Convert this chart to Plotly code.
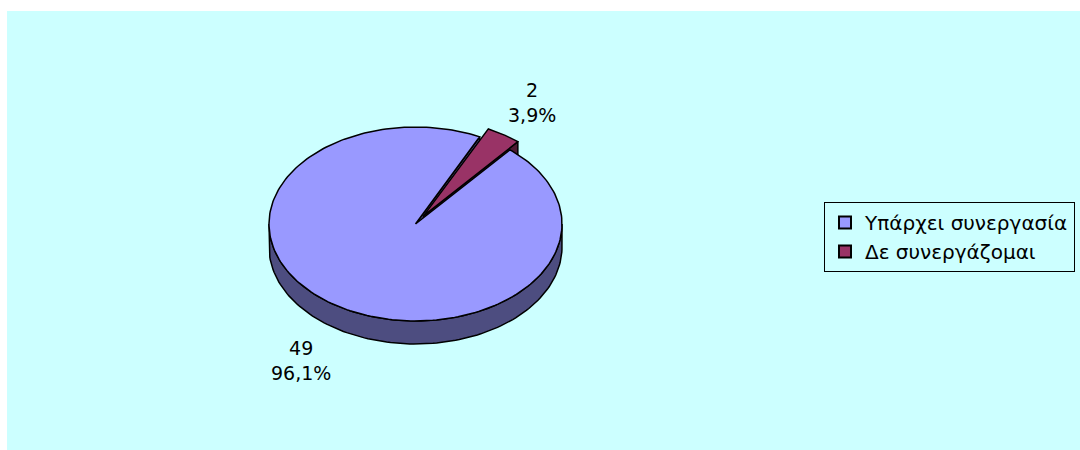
import numpy as np
import plotly.graph_objects as go

# ---------------- data ----------------
categories = ["Υπάρχει συνεργασία", "Δε συνεργάζομαι"]
values = [49, 2]

# ---------------- style ----------------
top_colors = ["#9999FF", "#993366"]
side_colors = ["#4D4D80", "#4D1A33"]
pulls = [0.0, 0.1]

W, H = 1080, 450
BG = "#CCFFFF"
CX, CY, RX, RY, DEPTH = 415.5, 224.0, 146.5, 97.0, 23.0
FIRST_ANGLE = 40.1  # degrees, clockwise from 12 o'clock
FONT = dict(family="DejaVu Sans", size=19, color="#000000")
LEG_FONT = dict(family="DejaVu Sans", size=20, color="#000000")


def proj(t_deg, r=1.0, z=0.0, off=(0.0, 0.0)):
    t = np.radians(np.asarray(t_deg, dtype=float))
    return (CX + off[0] + RX * r * np.sin(t),
            CY + off[1] - RY * r * np.cos(t) + z)


total = float(sum(values))
spans = [v / total * 360.0 for v in values]
starts = []
a = FIRST_ANGLE
for s in spans:
    starts.append(a)
    a += s

slices = []
for i, (a0, s) in enumerate(zip(starts, spans)):
    a1 = a0 + s
    mid = (a0 + a1) / 2
    p = pulls[i]
    m = np.radians(mid)
    off = (RX * p * np.sin(m), -RY * p * np.cos(m))
    slices.append(dict(a0=a0, a1=a1, mid=mid, off=off))

fig = go.Figure()


def poly(xs, ys, fill):
    fig.add_trace(go.Scatter(
        x=list(xs) + [xs[0]], y=list(ys) + [ys[0]], mode="lines",
        fill="toself", fillcolor=fill,
        line=dict(color="#000000", width=1.5),
        hoverinfo="skip", showlegend=False))


# 1) outer side walls (front half only)
for i, sl in enumerate(slices):
    for k in range(-1, 3):
        lo = max(sl["a0"], 90 + 360 * k)
        hi = min(sl["a1"], 270 + 360 * k)
        if hi > lo:
            t = np.linspace(lo, hi, 120)
            xt, yt = proj(t, 1.0, 0.0, sl["off"])
            xb, yb = proj(t[::-1], 1.0, DEPTH, sl["off"])
            poly(np.concatenate([xt, xb]), np.concatenate([yt, yb]), side_colors[i])

# 2) radial faces facing the viewer
for i, sl in enumerate(slices):
    for edge, normal in ((sl["a0"], sl["a0"] - 90), (sl["a1"], sl["a1"] + 90)):
        if np.cos(np.radians(normal)) < 0:
            ax, ay = proj(0, 0.0, 0.0, sl["off"])
            ox, oy = proj(edge, 1.0, 0.0, sl["off"])
            obx, oby = proj(edge, 1.0, DEPTH, sl["off"])
            abx, aby = proj(0, 0.0, DEPTH, sl["off"])
            poly([ax, ox, obx, abx], [ay, oy, oby, aby], side_colors[i])

# 3) top faces
for i, sl in enumerate(slices):
    t = np.linspace(sl["a0"], sl["a1"], 240)
    xt, yt = proj(t, 1.0, 0.0, sl["off"])
    ax, ay = proj(0, 0.0, 0.0, sl["off"])
    poly(np.concatenate([[ax], xt]), np.concatenate([[ay], yt]), top_colors[i])

# legend entries
for i, name in enumerate(categories):
    fig.add_trace(go.Scatter(
        x=[None], y=[None], mode="markers", name=name,
        legendgroup=f"g{i}",
        marker=dict(symbol="square", size=9, color=top_colors[i],
                    line=dict(color="#000000", width=1))))

# data labels
for i, sl in enumerate(slices):
    pct = f"{values[i] / total * 100:.1f}".replace(".", ",")
    z = DEPTH if np.cos(np.radians(sl["mid"])) < 0 else 0.0
    lx, ly = proj(sl["mid"], 1.4, z, sl["off"])
    fig.add_annotation(x=float(lx) - 3, y=float(ly), xref="x", yref="y",
                       text=f"{values[i]}<br>{pct}%", showarrow=False,
                       font=FONT, align="center")

X0, Y0 = 7, 11
fig.update_layout(
    width=W, height=H,
    margin=dict(l=0, r=0, t=0, b=0),
    paper_bgcolor="#FFFFFF", plot_bgcolor=BG,
    xaxis=dict(domain=[X0 / W, 1], range=[X0, W], visible=False, fixedrange=True),
    yaxis=dict(domain=[0, 1 - Y0 / H], range=[H, Y0], visible=False, fixedrange=True),
    showlegend=True,
    legend=dict(x=824 / W, y=1 - 202 / H, xanchor="left", yanchor="top",
                bordercolor="#000000", borderwidth=1, bgcolor=BG,
                font=LEG_FONT, tracegroupgap=0, itemsizing="constant"),
)

fig.write_html("out.html", config={"displayModeBar": False},
               post_script="document.body.style.margin='0';")
